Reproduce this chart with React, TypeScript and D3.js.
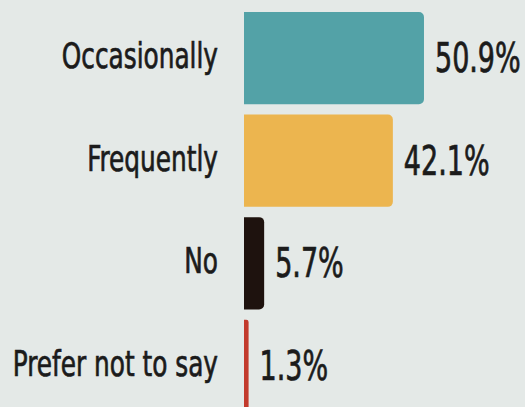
import React from "react";
import * as d3 from "d3";

const categories = ["Occasionally", "Frequently", "No", "Prefer not to say"];
const values = [50.9, 42.1, 5.7, 1.3];
const valueLabels = ["50.9%", "42.1%", "5.7%", "1.3%"];
const colors = ["#53a2a7", "#ecb54f", "#1e120e", "#c23a2c"];

const W = 525;
const H = 407;
const FONT = "'Liberation Sans Narrow', 'DejaVu Sans Condensed', 'Liberation Sans', sans-serif";
const SX_LABEL = 0.765;
const SX_VALUE = 0.75;

function barPath(x0: number, y0: number, w: number, h: number, r: number) {
  const rr = Math.min(r, w / 2, h / 2);
  const p = d3.path();
  p.moveTo(x0, y0);
  p.lineTo(x0 + w - rr, y0);
  p.arcTo(x0 + w, y0, x0 + w, y0 + rr, rr);
  p.lineTo(x0 + w, y0 + h - rr);
  p.arcTo(x0 + w, y0 + h, x0 + w - rr, y0 + h, rr);
  p.lineTo(x0, y0 + h);
  p.closePath();
  return p.toString();
}

export default function App() {
  const y = d3.scaleBand<string>().domain(categories).range([12, 412]).paddingInner(0.1).paddingOuter(0);
  const x = d3.scaleLinear().domain([0, 100]).range([244, 244 + 353.6]);
  return (
    <svg width={W} height={H} style={{ position: "absolute", left: 0, top: 0 }}>
      <rect x={0} y={0} width={W} height={H} fill="#e4e9e7" />
      {categories.map((c, i) => {
        const y0 = y(c)!;
        const bh = y.bandwidth();
        const cy = y0 + bh / 2;
        const xe = x(values[i]);
        return (
          <g key={c}>
            <path d={barPath(x(0), y0, xe - x(0), bh, 5)} fill={colors[i]} />
            <text
              transform={`translate(218,${cy + 10}) scale(${SX_LABEL},1)`}
              textAnchor="end"
              fontFamily={FONT}
              fontSize={36}
              fill="#1b1b1b"
              stroke="#1b1b1b"
              strokeWidth={0.7}
            >
              {c}
            </text>
            <text
              transform={`translate(${xe + 11},${cy + 14}) scale(${SX_VALUE},1)`}
              textAnchor="start"
              fontFamily={FONT}
              fontSize={40}
              fill="#1b1b1b"
              stroke="#1b1b1b"
              strokeWidth={0.7}
            >
              {valueLabels[i]}
            </text>
          </g>
        );
      })}
    </svg>
  );
}
